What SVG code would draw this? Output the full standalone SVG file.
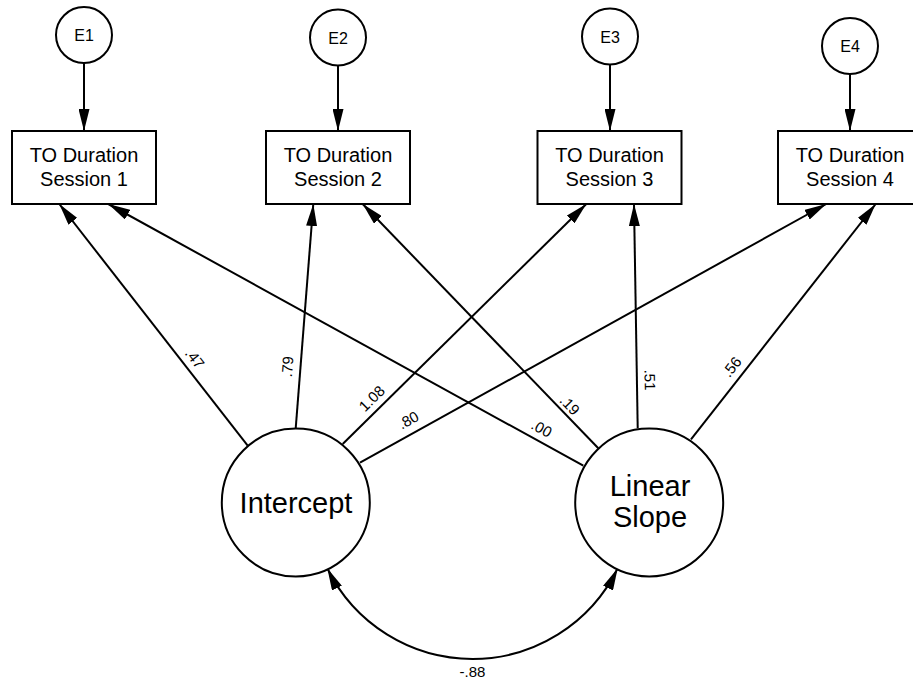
<svg xmlns="http://www.w3.org/2000/svg" width="913" height="679" viewBox="0 0 913 679">
  <style>
    .shape { fill: #ffffff; stroke: #000000; stroke-width: 2; }
    .path { fill: none; stroke: #000000; stroke-width: 2; marker-end: url(#arrow); }
    .txt { font-family: "Liberation Sans", Arial, sans-serif; fill: #000000; text-anchor: middle; }
    .obs { font-size: 20px; }
    .err { font-size: 16px; }
    .lat { font-size: 29px; }
    .coef { font-size: 15px; }
  </style>
  <defs>
    <marker id="arrow" markerUnits="userSpaceOnUse" markerWidth="22" markerHeight="11" refX="22" refY="5.5" orient="auto-start-reverse">
      <path d="M0,0 L22,5.5 L0,11 Z" fill="#000000"/>
    </marker>
  </defs>
  <rect width="913" height="679" fill="#ffffff"/>

  <!-- connectors -->
  <g id="connectors">
    <!-- error terms to observed -->
    <line class="path" x1="84" y1="63" x2="84" y2="131"/>
    <line class="path" x1="338" y1="65.5" x2="338" y2="131"/>
    <line class="path" x1="610" y1="64.5" x2="610" y2="131"/>
    <line class="path" x1="850" y1="74" x2="850" y2="131"/>
    <!-- intercept loadings -->
    <line class="path" x1="247.7" y1="445.7" x2="59.3" y2="204"/>
    <line class="path" x1="295.7" y1="428.3" x2="313.3" y2="204"/>
    <line class="path" x1="342.7" y1="444" x2="586.3" y2="204"/>
    <line class="path" x1="360" y1="462.7" x2="826.3" y2="204"/>
    <!-- slope loadings -->
    <line class="path" x1="583.3" y1="465.7" x2="108.3" y2="204"/>
    <line class="path" x1="598.3" y1="448.3" x2="362.7" y2="204"/>
    <line class="path" x1="637.7" y1="428.3" x2="634" y2="204"/>
    <line class="path" x1="691" y1="439.3" x2="875.7" y2="204"/>
    <!-- covariance -->
    <path class="path" d="M327.3,568.3 A161.6,161.6 0 0 0 617.7,568.3" marker-start="url(#arrow)"/>

    <!-- coefficients -->
    <g class="txt coef">
      <text transform="translate(195,358.3) rotate(52)" y="5.4">.47</text>
      <text transform="translate(287.3,366.7) rotate(-85.5)" y="5.4">.79</text>
      <text transform="translate(371.7,398.3) rotate(-44.6)" y="5.4">1.08</text>
      <text transform="translate(408.3,420) rotate(-29)" y="5.4">.80</text>
      <text transform="translate(541.7,428.3) rotate(28.9)" y="5.4">.00</text>
      <text transform="translate(570,405) rotate(46)" y="5.4">.19</text>
      <text transform="translate(650,380) rotate(89)" y="5.4">.51</text>
      <text transform="translate(731.7,366.7) rotate(-51.9)" y="5.4">.56</text>
      <text x="472.5" y="676.5">-.88</text>
    </g>
  </g>

  <!-- error terms -->
  <g id="E1">
    <circle class="shape" cx="84" cy="35" r="28"/>
    <text class="txt err" x="84" y="41">E1</text>
  </g>
  <g id="E2">
    <circle class="shape" cx="338" cy="37.5" r="28"/>
    <text class="txt err" x="338" y="43.5">E2</text>
  </g>
  <g id="E3">
    <circle class="shape" cx="610" cy="36.5" r="28"/>
    <text class="txt err" x="610" y="42.5">E3</text>
  </g>
  <g id="E4">
    <circle class="shape" cx="850" cy="46" r="28"/>
    <text class="txt err" x="850" y="52">E4</text>
  </g>

  <!-- observed variables -->
  <g id="Session1">
    <rect class="shape" x="12" y="131" width="144" height="73"/>
    <text class="txt obs" x="84" y="162">TO Duration</text>
    <text class="txt obs" x="84" y="185.7">Session 1</text>
  </g>
  <g id="Session2">
    <rect class="shape" x="266" y="131" width="144" height="73"/>
    <text class="txt obs" x="338" y="162">TO Duration</text>
    <text class="txt obs" x="338" y="185.7">Session 2</text>
  </g>
  <g id="Session3">
    <rect class="shape" x="537.5" y="131" width="144" height="73"/>
    <text class="txt obs" x="609.5" y="162">TO Duration</text>
    <text class="txt obs" x="609.5" y="185.7">Session 3</text>
  </g>
  <g id="Session4">
    <rect class="shape" x="778" y="131" width="144" height="73"/>
    <text class="txt obs" x="850" y="162">TO Duration</text>
    <text class="txt obs" x="850" y="185.7">Session 4</text>
  </g>

  <!-- latent growth factors -->
  <g id="Intercept">
    <circle class="shape" cx="295.8" cy="502.5" r="74"/>
    <text class="txt lat" x="296" y="513">Intercept</text>
  </g>
  <g id="LinearSlope">
    <circle class="shape" cx="649.2" cy="502.5" r="74"/>
    <text class="txt lat" x="650" y="495.5">Linear</text>
    <text class="txt lat" x="650" y="527">Slope</text>
  </g>
</svg>
